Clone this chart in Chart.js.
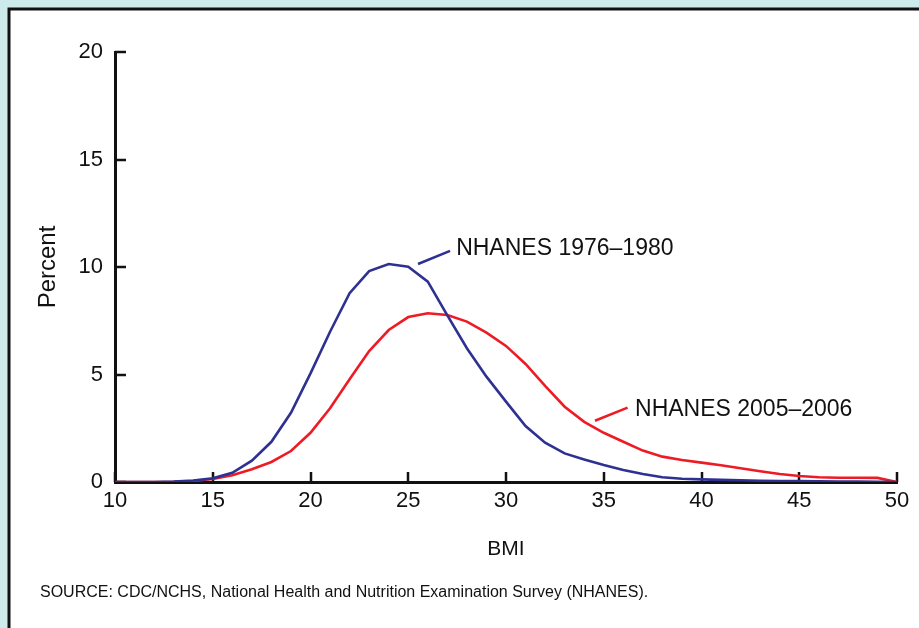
<!DOCTYPE html>
<html>
<head>
<meta charset="utf-8">
<script src="https://cdn.jsdelivr.net/npm/chart.js@4/dist/chart.umd.min.js"></script>
<style>
html,body{margin:0;padding:0;background:#cdebea;}
canvas{display:block;}
</style>
</head>
<body>
<canvas id="c" width="919" height="628"></canvas>
<script>
// ---- Data ----
const bmi = [10,11,12,13,14,15,16,17,18,19,20,21,22,23,24,25,26,27,28,29,30,31,32,33,34,35,36,37,38,39,40,41,42,43,44,45,46,47,48,49,50];
const nhanes1976 = [0,0,0,0.02,0.07,0.17,0.43,0.99,1.87,3.22,5.05,6.99,8.78,9.81,10.14,10.01,9.32,7.75,6.22,4.9,3.74,2.6,1.83,1.33,1.05,0.79,0.56,0.37,0.22,0.15,0.12,0.1,0.08,0.06,0.05,0.04,0.03,0.02,0.02,0.01,0];
const nhanes2005 = [0,0,0,0.01,0.05,0.14,0.31,0.59,0.93,1.44,2.29,3.43,4.78,6.09,7.07,7.67,7.85,7.77,7.46,6.95,6.33,5.49,4.47,3.5,2.8,2.29,1.87,1.46,1.18,1.02,0.9,0.78,0.64,0.5,0.37,0.28,0.22,0.2,0.2,0.19,0];
const seriesNames = ['NHANES 1976\u20131980','NHANES 2005\u20132006'];
const xTicks = [10,15,20,25,30,35,40,45,50];
const yTicks = [0,5,10,15,20];
const xTitle = 'BMI';
const yTitle = 'Percent';
const sourceNote = 'SOURCE: CDC/NCHS, National Health and Nutrition Examination Survey (NHANES).';

// ---- Styling / layout ----
const FONT = "'Liberation Sans', Arial, Helvetica, sans-serif";
const colors = ['#2e3192', '#ed1c24'];
// callouts in data coordinates
const callouts = [
  {series:0, from:[25.5,10.14], to:[27.14,10.75], text:[27.45,10.84]},
  {series:1, from:[34.55,2.85], to:[36.22,3.46], text:[36.6,3.37]}
];

Chart.defaults.font.family = FONT;
Chart.defaults.color = '#111';

const decor = {
  id: 'decor',
  beforeDraw(chart) {
    const ctx = chart.ctx;
    ctx.save();
    ctx.fillStyle = '#cdebea';
    ctx.fillRect(0, 0, chart.width, chart.height);
    ctx.fillStyle = '#ffffff';
    ctx.fillRect(9, 9, chart.width, chart.height);
    ctx.strokeStyle = '#111';
    ctx.lineWidth = 3;
    ctx.strokeRect(9, 9, chart.width + 20, chart.height + 20);
    ctx.restore();
  },
  beforeDatasetsDraw(chart) {
    const ctx = chart.ctx, xs = chart.scales.x, ys = chart.scales.y;
    ctx.save();
    ctx.strokeStyle = '#111';
    ctx.lineWidth = 2.5;
    ctx.beginPath();
    yTicks.forEach(v => {
      const p = Math.round(ys.getPixelForValue(v));
      ctx.moveTo(xs.left, p); ctx.lineTo(xs.left + 11, p);
    });
    xTicks.forEach(v => {
      const p = Math.round(xs.getPixelForValue(v));
      ctx.moveTo(p, ys.bottom); ctx.lineTo(p, ys.bottom - 10);
    });
    ctx.stroke();
    ctx.restore();
  },
  afterDraw(chart) {
    const ctx = chart.ctx, xs = chart.scales.x, ys = chart.scales.y;
    ctx.save();
    callouts.forEach(c => {
      ctx.strokeStyle = colors[c.series];
      ctx.lineWidth = 2.5;
      ctx.beginPath();
      ctx.moveTo(xs.getPixelForValue(c.from[0]), ys.getPixelForValue(c.from[1]));
      ctx.lineTo(xs.getPixelForValue(c.to[0]), ys.getPixelForValue(c.to[1]));
      ctx.stroke();
      ctx.fillStyle = '#111';
      ctx.font = '23px ' + FONT;
      ctx.textAlign = 'left';
      ctx.textBaseline = 'middle';
      ctx.fillText(seriesNames[c.series], xs.getPixelForValue(c.text[0]), ys.getPixelForValue(c.text[1]));
    });
    ctx.font = '16px ' + FONT;
    ctx.fillStyle = '#111';
    ctx.textAlign = 'left';
    ctx.textBaseline = 'alphabetic';
    ctx.fillText(sourceNote, 40, 597);
    ctx.restore();
  }
};

const toPoints = arr => bmi.map((b, i) => ({x: b, y: arr[i]}));

new Chart(document.getElementById('c'), {
  type: 'line',
  data: {
    datasets: [
      {label: seriesNames[0], data: toPoints(nhanes1976), borderColor: colors[0], borderWidth: 2.6, pointRadius: 0, tension: 0, fill: false},
      {label: seriesNames[1], data: toPoints(nhanes2005), borderColor: colors[1], borderWidth: 2.6, pointRadius: 0, tension: 0, fill: false}
    ]
  },
  options: {
    responsive: false,
    animation: false,
    devicePixelRatio: 1,
    layout: {padding: {left: 0, top: 52, right: 22, bottom: 46}},
    plugins: {legend: {display: false}, tooltip: {enabled: false}},
    scales: {
      x: {
        type: 'linear', min: 10, max: 50,
        afterBuildTicks: s => { s.ticks = xTicks.map(v => ({value: v})); },
        afterFit: s => { s.height = 100; },
        grid: {display: true, drawOnChartArea: false, drawTicks: false},
        border: {display: true, color: '#111', width: 3},
        ticks: {padding: 6, color: '#111', font: {size: 22}, maxRotation: 0, autoSkip: false},
        title: {display: true, text: xTitle, color: '#111', font: {size: 21}, padding: {top: 0, bottom: 20}}
      },
      y: {
        type: 'linear', min: 0, max: 20,
        afterBuildTicks: s => { s.ticks = yTicks.map(v => ({value: v})); },
        afterFit: s => { s.width = 115; },
        grid: {display: true, drawOnChartArea: false, drawTicks: false},
        border: {display: true, color: '#111', width: 3},
        ticks: {padding: 12, color: '#111', font: {size: 22}},
        title: {display: true, text: yTitle, color: '#111', font: {size: 24}, padding: {top: 34, bottom: 0}}
      }
    }
  },
  plugins: [decor]
});
</script>
</body>
</html>
